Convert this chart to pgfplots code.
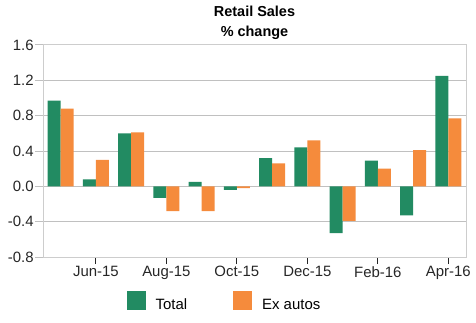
\documentclass[border=0pt]{standalone}
\usepackage{pgfplots}
\pgfplotsset{compat=1.18}
\usepackage{fontspec}
\setmainfont{Liberation Sans}
\definecolor{cgreen}{RGB}{34,139,98}
\definecolor{corange}{RGB}{245,139,60}
\definecolor{cframe}{RGB}{205,205,205}
\definecolor{cgrid}{RGB}{192,192,192}
\begin{document}
\fontsize{15}{18}\selectfont
\begin{tikzpicture}
\useasboundingbox (-43bp,-66bp) rectangle (433bp,257bp);
\begin{axis}[
  at={(0,0)}, anchor=south west,
  scale only axis, width=423bp, height=212bp,
  xmin=0.5, xmax=12.5, ymin=-0.8, ymax=1.6,
  ytick={-0.8,-0.4,0,0.4,0.8,1.2,1.6},
  yticklabel style={/pgf/number format/.cd, fixed, fixed zerofill, precision=1, assume math mode=true},
  xtick={2,4,6,8,10,12},
  xticklabels={Jun-15,Aug-15,Oct-15,Dec-15,Feb-16,Apr-16},
  xtick pos=bottom, ytick pos=left,
  tick align=outside,
  axis line style={cframe, line width=1bp},
  ymajorgrids, grid style={cgrid, line width=1bp},
  xtick style={black!85, line width=1.2bp, /pgfplots/major tick length=7bp},
  ytick style={cgrid, line width=1bp, /pgfplots/major tick length=8bp},
  tick label style={font=\fontsize{15}{18}\selectfont, text=black!85},
  title={Retail Sales\\\% change},
  title style={font=\bfseries\fontsize{14.5}{20}\selectfont, align=center, at={(0.5,1)}, anchor=south, yshift=-1bp, inner sep=0pt},
  ybar=0pt, bar width=13bp,
  legend style={at={(axis description cs:0.429,-0.215)}, anchor=center, draw=none, fill=none,
    legend columns=2, font=\fontsize{15}{18}\selectfont,
    /tikz/every odd column/.append style={column sep=8bp},
    /tikz/every even column/.append style={column sep=44bp}},
  legend image code/.code={\fill[#1] (0bp,-4.5bp) rectangle (19bp,14.5bp);},
]
\addplot[fill=cgreen, draw=none] coordinates {
  (1,0.97) (2,0.08) (3,0.60) (4,-0.13) (5,0.05) (6,-0.04)
  (7,0.32) (8,0.44) (9,-0.53) (10,0.29) (11,-0.33) (12,1.25)};
\addplot[fill=corange, draw=none] coordinates {
  (1,0.88) (2,0.30) (3,0.61) (4,-0.28) (5,-0.28) (6,-0.02)
  (7,0.26) (8,0.52) (9,-0.39) (10,0.20) (11,0.41) (12,0.77)};
\legend{Total, Ex autos}
\end{axis}
\end{tikzpicture}
\end{document}
